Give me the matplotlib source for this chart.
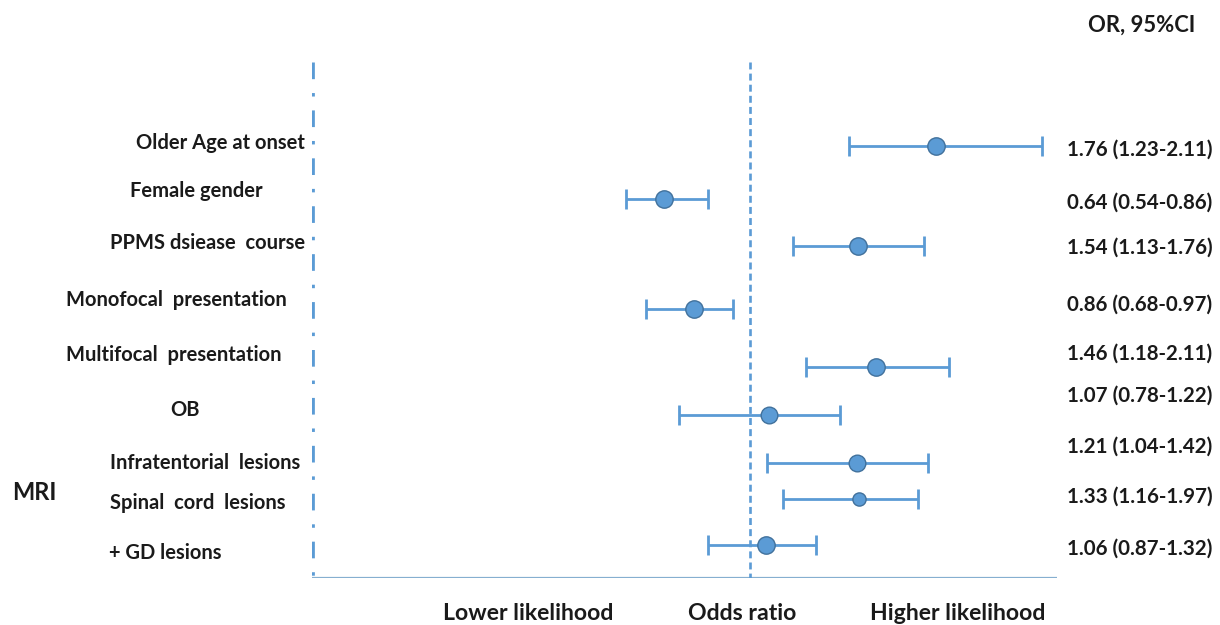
import matplotlib
matplotlib.use("Agg")
import matplotlib.pyplot as plt

# filas del forest plot (de arriba hacia abajo)
factores = ["Older Age at onset", "Female gender", "PPMS dsiease  course",
            "Monofocal  presentation", "Multifocal  presentation", "OB",
            "Infratentorial  lesions", "Spinal  cord  lesions", "+ GD lesions"]
or_texto = ["1.76 (1.23-2.11)", "0.64 (0.54-0.86)", "1.54 (1.13-1.76)",
            "0.86 (0.68-0.97)", "1.46 (1.18-2.11)", "1.07 (0.78-1.22)",
            "1.21 (1.04-1.42)", "1.33 (1.16-1.97)", "1.06 (0.87-1.32)"]
# posiciones dibujadas (escala del eje con OR=1 en la linea central)
or_punto = [1.744, 0.656, 1.432, 0.776, 1.504, 1.076, 1.428, 1.436, 1.064]
ic_inf = [1.396, 0.504, 1.172, 0.584, 1.224, 0.716, 1.068, 1.132, 0.832]
ic_sup = [2.168, 0.832, 1.696, 0.932, 1.796, 1.360, 1.712, 1.672, 1.264]

W, H = 1220, 625
AZUL = "#5b9bd5"
BORDE = "#41719c"
NEGRO = "#1a1a1a"

# layout en pixeles
fila_y = [146, 199, 246, 309, 367, 415, 463, 499, 545]
etiq_x = [136, 130, 110, 66, 66, 170, 110, 110, 109]
etiq_y = [143, 191, 243, 300, 355, 410, 463, 503, 553]
texto_y = [150, 203, 248, 305, 354, 396, 447, 497, 549]
tam_marcador = [12.5, 12.5, 12.5, 12.5, 12.5, 12, 12, 9.5, 12.5]


def px(x, y):
    return x / W, 1 - y / H


def main():
    plt.rcParams["font.family"] = ["Lato", "DejaVu Sans"]
    plt.rcParams["lines.scale_dashes"] = False
    fig = plt.figure(figsize=(W / 100, H / 100), dpi=100)

    x0, x1, y0, y1 = 312, 1057, 62, 578
    ax = fig.add_axes([x0 / W, 1 - y1 / H, (x1 - x0) / W, (y1 - y0) / H])
    # 250 px por unidad, OR = 1 en x = 750
    ax.set_xlim(1 - (750 - x0) / 250, 1 + (x1 - 750) / 250)
    ax.set_ylim(y1, y0)
    ax.axis("off")

    xl, xr = ax.get_xlim()
    ax.plot([xl, xl], [y0, y1], color=AZUL, lw=3.4,
            linestyle=(0, (12, 10, 2.5, 10)), dash_capstyle="butt")
    ax.plot([xl, xr], [y1, y1], color="#86afd0", lw=1.6)
    ax.plot([1, 1], [y0, y1], color=AZUL, lw=1.9, linestyle=(0, (5, 3)),
            dash_capstyle="butt")

    for i in range(len(factores)):
        y = fila_y[i]
        ax.errorbar(or_punto[i], y,
                    xerr=[[or_punto[i] - ic_inf[i]], [ic_sup[i] - or_punto[i]]],
                    fmt="none", ecolor=AZUL, elinewidth=2, capsize=7,
                    capthick=2, clip_on=False)
        ax.plot(or_punto[i], y, "o", ms=tam_marcador[i], mfc=AZUL,
                mec=BORDE, mew=1, clip_on=False, zorder=3)

        fig.text(*px(etiq_x[i], etiq_y[i]), factores[i], ha="left",
                 va="center", fontsize=14.5, fontweight="bold", color=NEGRO)
        fig.text(*px(1067, texto_y[i]), or_texto[i], ha="left", va="center",
                 fontsize=14.8, fontweight="bold", color=NEGRO)

    fig.text(*px(34, 492), "MRI", ha="center", va="center", fontsize=17,
             color=NEGRO, fontweight="bold")
    fig.text(*px(1142, 25), "OR, 95%CI", ha="center", va="center",
             fontsize=15.8, fontweight="bold", color=NEGRO)
    fig.text(*px(528, 614), "Lower likelihood", ha="center", va="center",
             fontsize=16.6, fontweight="bold", color=NEGRO)
    fig.text(*px(742, 614), "Odds ratio", ha="center", va="center",
             fontsize=16.6, fontweight="bold", color=NEGRO)
    fig.text(*px(958, 614), "Higher likelihood", ha="center", va="center",
             fontsize=16.6, fontweight="bold", color=NEGRO)

    fig.savefig("out.png", dpi=100)


if __name__ == "__main__":
    main()
